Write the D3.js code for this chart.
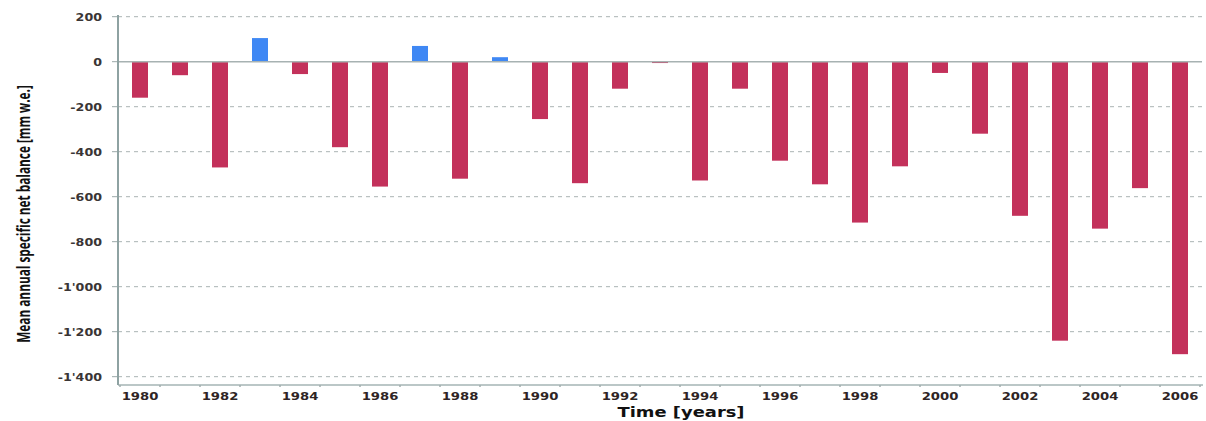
<!DOCTYPE html>
<html>
<head>
<meta charset="utf-8">
<script src="https://cdn.jsdelivr.net/npm/d3@7"></script>
<style>
html,body{margin:0;padding:0;background:#fff;}
svg{display:block;}
</style>
</head>
<body>
<svg id="chart" width="1206" height="421"></svg>
<script>
const years = d3.range(1980, 2007);
const balance = [-160, -60, -470, 105, -55, -380, -555, 70, -520, 20,
                 -255, -540, -120, -6, -528, -120, -440, -545, -715, -465,
                 -50, -320, -685, -1240, -742, -562, -1300];
const yTicks = [200, 0, -200, -400, -600, -800, -1000, -1200, -1400];
const xLabelYears = d3.range(1980, 2007, 2);
const yTitle = "Mean annual specific net balance [mm w.e.]";
const xTitle = "Time [years]";

const svg = d3.select("#chart");
const x = d3.scaleBand().domain(years).range([120, 1200]).paddingInner(0.6).paddingOuter(0.3);
const y = d3.scaleLinear().domain([-1437, 200]).range([385, 16.7]);
const fmt = v => d3.format(",")(v).replace(/,/g, "'").replace("−", "-");

const axisX0 = 118, axisX1 = 1202;

// gridlines
svg.append("g").selectAll("line").data(yTicks.filter(d => d !== 0)).join("line")
  .attr("x1", axisX0).attr("x2", axisX1)
  .attr("y1", d => y(d)).attr("y2", d => y(d))
  .attr("stroke", "#aab3b3").attr("stroke-width", 1)
  .attr("stroke-dasharray", "4,4");

// y tick marks
svg.append("g").selectAll("line").data(yTicks).join("line")
  .attr("x1", axisX0 - 6).attr("x2", axisX0)
  .attr("y1", d => y(d)).attr("y2", d => y(d))
  .attr("stroke", "#9aa8a8").attr("stroke-width", 1);

// y tick labels
svg.append("g").selectAll("text").data(yTicks).join("text")
  .attr("transform", d => `translate(102,${y(d) + 4}) scale(1.15,1)`)
  .attr("text-anchor", "end")
  .attr("font-family", "DejaVu Sans, Verdana, sans-serif")
  .attr("font-weight", "bold").attr("font-size", 11)
  .attr("fill", "#3a3535")
  .text(d => fmt(d));

// bars
svg.append("g").selectAll("rect").data(years).join("rect")
  .attr("x", d => x(d))
  .attr("width", x.bandwidth())
  .attr("y", (d, i) => Math.min(y(balance[i]), y(0)))
  .attr("height", (d, i) => Math.abs(y(balance[i]) - y(0)))
  .attr("fill", (d, i) => balance[i] >= 0 ? "#3f88f4" : "#c3315b");

// zero line
svg.append("line")
  .attr("x1", axisX0).attr("x2", axisX1)
  .attr("y1", y(0)).attr("y2", y(0))
  .attr("stroke", "#a7b2b2").attr("stroke-width", 1.5);

// x axis line
svg.append("line")
  .attr("x1", axisX0).attr("x2", axisX1 + 1)
  .attr("y1", y(-1437)).attr("y2", y(-1437))
  .attr("stroke", "#a5b5b5").attr("stroke-width", 1.5);

// x minor ticks at category boundaries
const step = x.step();
const bounds = years.map(d => x(d) + x.bandwidth() / 2 + step / 2);
bounds.unshift(x(years[0]) + x.bandwidth() / 2 - step / 2);
svg.append("g").selectAll("line").data(bounds).join("line")
  .attr("x1", d => d).attr("x2", d => d)
  .attr("y1", y(-1437)).attr("y2", y(-1437) + 2)
  .attr("stroke", "#a0aeae").attr("stroke-width", 1.5);

// y axis line
svg.append("line")
  .attr("x1", axisX0).attr("x2", axisX0)
  .attr("y1", 15).attr("y2", y(-1437))
  .attr("stroke", "#8ea2a2").attr("stroke-width", 2);

// x tick labels
svg.append("g").selectAll("text").data(xLabelYears).join("text")
  .attr("transform", d => `translate(${x(d) + x.bandwidth() / 2},400) scale(1.2,1)`)
  .attr("text-anchor", "middle")
  .attr("font-family", "DejaVu Sans, Verdana, sans-serif")
  .attr("font-weight", "bold").attr("font-size", 11)
  .attr("fill", "#2e2424")
  .text(d => d);

// x title
svg.append("text")
  .attr("transform", "translate(681,417) scale(1.28,1)")
  .attr("text-anchor", "middle")
  .attr("font-family", "DejaVu Sans, Verdana, sans-serif")
  .attr("font-weight", "bold").attr("font-size", 14)
  .attr("fill", "#111")
  .text(xTitle);

// y title (condensed by horizontal scaling to the reference length)
const yt = svg.append("text")
  .attr("text-anchor", "middle")
  .attr("font-family", "Liberation Sans Narrow, Open Sans, sans-serif")
  .attr("font-weight", "bold").attr("font-size", 17)
  .attr("fill", "#111")
  .text(yTitle);
const natural = yt.node().getComputedTextLength();
const sx = 258 / natural;
yt.attr("transform", `translate(30,214) rotate(-90) scale(${sx},1)`);
</script>
</body>
</html>
